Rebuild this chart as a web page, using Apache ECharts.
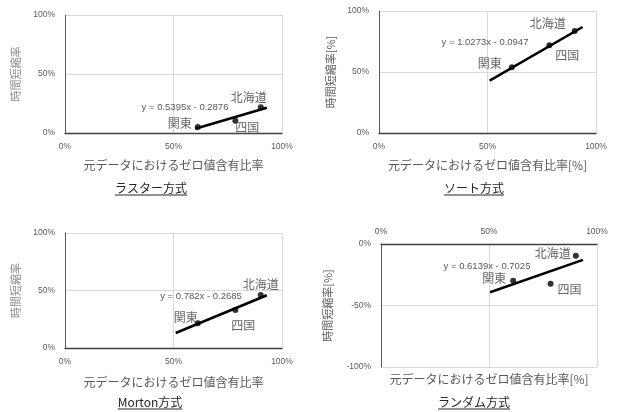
<!DOCTYPE html>
<html>
<head>
<meta charset="utf-8">
<script src="https://cdn.jsdelivr.net/npm/echarts@6/dist/echarts.min.js"></script>
<style>
  html, body { margin: 0; padding: 0; background: #fff; }
  #chart { width: 617px; height: 412px; }
</style>
</head>
<body>
<div id="chart"></div>
<script>
// Regions and their share of zero values in the source data
const regions = ['関東', '四国', '北海道'];
const zeroRatio = [0.612, 0.785, 0.902];

// Time reduction rate for each ordering method
const rasterRate = [0.05, 0.104, 0.218];
const sortRate = [0.538, 0.72, 0.836];
const mortonRate = [0.216, 0.33, 0.46];
const randomRate = [-0.298, -0.324, -0.095];

// Linear trend lines: [slope, intercept] and x range drawn
const rasterTrend = [0.5395, -0.2876];
const sortTrend = [1.0273, -0.0947];
const mortonTrend = [0.782, -0.2685];
const randomTrend = [0.6139, -0.7025];
const rasterTrendRange = [0.6, 0.93];
const sortTrendRange = [0.51, 0.938];
const mortonTrendRange = [0.51, 0.93];
const randomTrendRange = [0.505, 0.935];

const methodTitles = ['ラスター方式', 'ソート方式', 'Morton方式', 'ランダム方式'];
const xNames = ['元データにおけるゼロ値含有比率', '元データにおけるゼロ値含有比率[%]',
                '元データにおけるゼロ値含有比率', '元データにおけるゼロ値含有比率[%]'];
const yNames = ['時間短縮率', '時間短縮率[%]', '時間短縮率', '時間短縮率[%]'];
const xTicks = [0, 0.5, 1];

const FONT = "'Liberation Sans', 'Noto Sans CJK JP', sans-serif";
const JP = "'Noto Sans CJK JP', sans-serif";

const panels = [
  { rate: rasterRate, trend: rasterTrend, range: rasterTrendRange,
    grid: { left: 65, top: 15, width: 217, height: 118 }, yMin: 0, yMax: 1,
    yNameColor: '#8c8c8c', yGap: 44, xGap: 26,
    offsets: [[-18, -4], [12, 7], [-12, -10]],
    eq: [185, 107], title: [151, 188] },
  { rate: sortRate, trend: sortTrend, range: sortTrendRange,
    grid: { left: 379, top: 11, width: 217, height: 122 }, yMin: 0, yMax: 1,
    yNameColor: '#595959', yGap: 43, xGap: 26,
    offsets: [[-22, -4], [18, 10], [-27, -8]],
    eq: [485, 42], title: [474, 188] },
  { rate: mortonRate, trend: mortonTrend, range: mortonTrendRange,
    grid: { left: 65, top: 233, width: 217, height: 115 }, yMin: 0, yMax: 1,
    yNameColor: '#8c8c8c', yGap: 44, xGap: 28,
    offsets: [[-12, -6], [8, 15], [0, -11]],
    eq: [201, 296], title: [150, 402] },
  { rate: randomRate, trend: randomTrend, range: randomTrendRange,
    grid: { left: 381, top: 244, width: 216, height: 123 }, yMin: -1, yMax: 0,
    yNameColor: '#595959', yGap: 48, xGap: -141, xTop: true,
    offsets: [[-19, -2], [19, 6], [-23, -2]],
    eq: [487, 266], title: [474, 402] }
];

const pct = v => Math.round(v * 100) + '%';

const grids = [], xAxes = [], yAxes = [], series = [], graphics = [];

panels.forEach((p, i) => {
  grids.push(Object.assign({ containLabel: false }, p.grid));

  xAxes.push({
    gridIndex: i, type: 'value', min: xTicks[0], max: xTicks[xTicks.length - 1], interval: 0.5,
    position: p.xTop ? 'top' : 'bottom',
    axisLine: { onZero: false, lineStyle: { color: '#404040', width: 1.3 } },
    axisTick: { show: false },
    axisLabel: { formatter: pct, color: '#595959', fontSize: 8.5, fontFamily: FONT, margin: p.xTop ? 8 : 9 },
    splitLine: { show: true, lineStyle: { color: '#d9d9d9', width: 1 } },
    name: xNames[i], nameLocation: 'middle', nameGap: p.xGap,
    nameTextStyle: { color: '#595959', fontSize: 12, fontFamily: JP }
  });

  yAxes.push({
    gridIndex: i, type: 'value', min: p.yMin, max: p.yMax, interval: 0.5,
    axisLine: { show: true, onZero: false, lineStyle: { color: '#595959', width: 1 } },
    axisTick: { show: false },
    axisLabel: { formatter: pct, color: '#595959', fontSize: 8.5, fontFamily: FONT, margin: 10 },
    splitLine: { show: true, lineStyle: { color: '#d9d9d9', width: 1 } },
    name: yNames[i], nameLocation: 'middle', nameGap: p.yGap, nameRotate: 90,
    nameTextStyle: { color: p.yNameColor, fontSize: 11, fontFamily: JP }
  });

  // Regression line through the stated equation
  const [a, b] = p.trend;
  series.push({
    type: 'line', xAxisIndex: i, yAxisIndex: i, symbol: 'none', silent: true,
    lineStyle: { color: '#000', width: 2.5 },
    data: p.range.map(x => [x, a * x + b]),
    z: 2
  });

  // Observed points with region labels
  series.push({
    type: 'scatter', xAxisIndex: i, yAxisIndex: i, symbol: 'circle', symbolSize: 6,
    itemStyle: { color: '#000' },
    data: regions.map((name, k) => ({
      name: name, value: [zeroRatio[k], p.rate[k]],
      label: { offset: p.offsets[k] }
    })),
    label: {
      show: true, position: 'inside', formatter: '{b}',
      color: '#404040', fontSize: 12, fontFamily: JP,
      align: 'center', verticalAlign: 'middle'
    },
    z: 3
  });

  const sign = b < 0 ? ' - ' : ' + ';
  graphics.push({
    type: 'text', x: p.eq[0], y: p.eq[1], z: 10,
    style: {
      text: 'y = ' + a + 'x' + sign + Math.abs(b).toFixed(4),
      fill: '#595959', font: '9.5px ' + FONT, textAlign: 'center', textVerticalAlign: 'middle'
    }
  });

  graphics.push({
    type: 'text', x: p.title[0], y: p.title[1], z: 10,
    style: {
      text: methodTitles[i], fill: '#262626', font: '12px ' + JP,
      textAlign: 'center', textVerticalAlign: 'middle'
    }
  });
});

const chart = echarts.init(document.getElementById('chart'), null, { renderer: 'canvas' });
chart.setOption({
  animation: false,
  backgroundColor: '#fff',
  grid: grids, xAxis: xAxes, yAxis: yAxes, series: series,
  graphic: graphics
});

// Underline each method title using its measured width
const ctx = document.createElement('canvas').getContext('2d');
ctx.font = '12px ' + JP;
const lines = panels.map((p, i) => {
  const w = ctx.measureText(methodTitles[i]).width;
  return {
    type: 'line', z: 10,
    shape: { x1: p.title[0] - w / 2, y1: p.title[1] + 7, x2: p.title[0] + w / 2, y2: p.title[1] + 7 },
    style: { stroke: '#262626', lineWidth: 1 }
  };
});
chart.setOption({ graphic: graphics.concat(lines) });
</script>
</body>
</html>
